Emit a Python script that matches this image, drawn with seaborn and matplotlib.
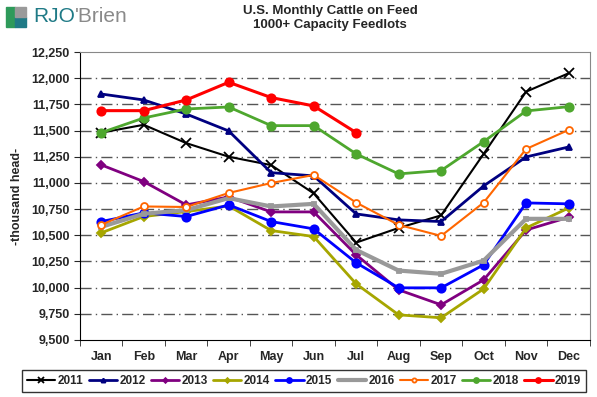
import pandas as pd
import numpy as np
import matplotlib
matplotlib.use('Agg')
import matplotlib.pyplot as plt
import seaborn as sns
from matplotlib.patches import Rectangle

sns.set_style('white')
plt.rcParams['font.family'] = ['Liberation Sans', 'DejaVu Sans']

months = ['Jan', 'Feb', 'Mar', 'Apr', 'May', 'Jun', 'Jul', 'Aug', 'Sep', 'Oct', 'Nov', 'Dec']
y2011 = [11480, 11555, 11380, 11250, 11170, 10900, 10430, 10570, 10690, 11277, 11871, 12047]
y2012 = [11849, 11792, 11658, 11496, 11098, 11067, 10704, 10647, 10631, 10971, 11248, 11343]
y2013 = [11172, 11013, 10790, 10866, 10723, 10723, 10313, 9979, 9836, 10074, 10550, 10672]
y2014 = [10523, 10679, 10726, 10780, 10545, 10488, 10036, 9740, 9712, 9988, 10570, 10760]
y2015 = [10631, 10714, 10679, 10790, 10631, 10561, 10237, 9998, 9998, 10218, 10809, 10800]
y2016 = [10580, 10705, 10740, 10855, 10775, 10800, 10360, 10163, 10132, 10258, 10657, 10657]
y2017 = [10600, 10775, 10770, 10904, 10999, 11076, 10812, 10599, 10494, 10812, 11324, 11506]
y2018 = [11480, 11620, 11706, 11725, 11547, 11547, 11277, 11086, 11118, 11394, 11687, 11728]
y2019 = [11690, 11690, 11792, 11961, 11815, 11735, 11480]

series = {'2011': y2011, '2012': y2012, '2013': y2013, '2014': y2014, '2015': y2015,
          '2016': y2016, '2017': y2017, '2018': y2018, '2019': y2019}

# 样式
colors = {'2011': '#000000', '2012': '#000080', '2013': '#800080', '2014': '#a6a600',
          '2015': '#0000ff', '2016': '#999999', '2017': '#ff6600', '2018': '#4ea72e', '2019': '#ff0000'}
markers = {'2011': 'x', '2012': '^', '2013': 'D', '2014': 'D', '2015': 'o',
           '2016': 's', '2017': 'o', '2018': 'o', '2019': 'o'}
msizes = {'2011': 7, '2012': 5, '2013': 4, '2014': 4, '2015': 6,
          '2016': 3, '2017': 5, '2018': 6, '2019': 6}
lwidths = {'2011': 1.5, '2012': 2, '2013': 2, '2014': 2, '2015': 2,
           '2016': 3, '2017': 1.5, '2018': 2, '2019': 2.2}

rows = []
for yr, vals in series.items():
    for m, v in zip(months, vals):
        rows.append({'month': m, 'value': v, 'year': yr})
df = pd.DataFrame(rows)
df['x'] = df['month'].map({m: i for i, m in enumerate(months)})

fig = plt.figure(figsize=(5.97, 3.97), dpi=100)
ax = fig.add_axes([0.134, 0.1436, 0.854, 0.7254])

for yr in series:
    d = df[df['year'] == yr]
    mfc = 'white' if yr == '2017' else colors[yr]
    sns.lineplot(data=d, x='x', y='value', ax=ax, color=colors[yr], lw=lwidths[yr],
                 marker=markers[yr], markersize=msizes[yr], markerfacecolor=mfc,
                 markeredgecolor=colors[yr], markeredgewidth=1.3, label=yr)

ax.set_xlim(-0.5, 11.5)
ax.set_ylim(9500, 12250)
ax.set_yticks(np.arange(9500, 12251, 250))
ax.set_yticklabels([f'{v:,}' for v in range(9500, 12251, 250)], fontsize=9, fontweight='bold')
ax.set_xticks(range(12))
ax.set_xticklabels(months, fontsize=9, fontweight='bold')
ax.set_xticks(np.arange(-0.5, 12, 1), minor=True)
ax.tick_params(axis='x', which='major', length=0, pad=8)
ax.tick_params(axis='x', which='minor', length=4, direction='out', bottom=True)
ax.tick_params(axis='y', length=4, direction='out', left=True)
ax.set_xlabel('')
ax.set_ylabel('-thousand head-', fontsize=9, fontweight='bold', labelpad=6)
for v in range(9750, 12250, 250):
    ax.axhline(v, color='#555555', lw=1, ls=(0, (8, 3, 1, 3)), zorder=0)
for side in ['left', 'bottom']:
    ax.spines[side].set_color('black')
for side in ['top', 'right']:
    ax.spines[side].set_color('#888888')

handles, labels = ax.get_legend_handles_labels()
ax.get_legend().remove()
leg = fig.legend(handles, labels, loc='center', bbox_to_anchor=(304 / 597, 1 - 381 / 397),
                 ncol=9, fontsize=8.5, frameon=True, fancybox=False, edgecolor='black',
                 handlelength=2.4, handletextpad=0.2, columnspacing=0.45, borderpad=0.4,
                 markerscale=0.6)
leg.get_frame().set_linewidth(1)
for t in leg.get_texts():
    t.set_fontweight('bold')

fig.text(0.553, 0.955, 'U.S. Monthly Cattle on Feed\n1000+ Capacity Feedlots',
         ha='center', va='center', fontsize=9.5, fontweight='bold', linespacing=1.2)

# logo
fig.patches.append(Rectangle((6 / 597, 1 - 27 / 397), 9 / 597, 20 / 397, transform=fig.transFigure, color='#2e9a5a'))
fig.patches.append(Rectangle((15 / 597, 1 - 27 / 397), 11 / 597, 10 / 397, transform=fig.transFigure, color='#1f7a86'))
fig.patches.append(Rectangle((15 / 597, 1 - 17 / 397), 11 / 597, 10 / 397, transform=fig.transFigure, color='#9a9a9a'))
t1 = fig.text(33 / 597, 1 - 17 / 397, 'RJO', color='#1f7a86', fontsize=15, va='center', ha='left')
fig.texts.append(matplotlib.text.Annotation("'Brien", xy=(1, 0.5), xycoords=t1, va='center', ha='left',
                                            color='#8a8a8a', fontsize=15))
fig.texts[-1].set_figure(fig)

fig.savefig('out.png', dpi=100)
